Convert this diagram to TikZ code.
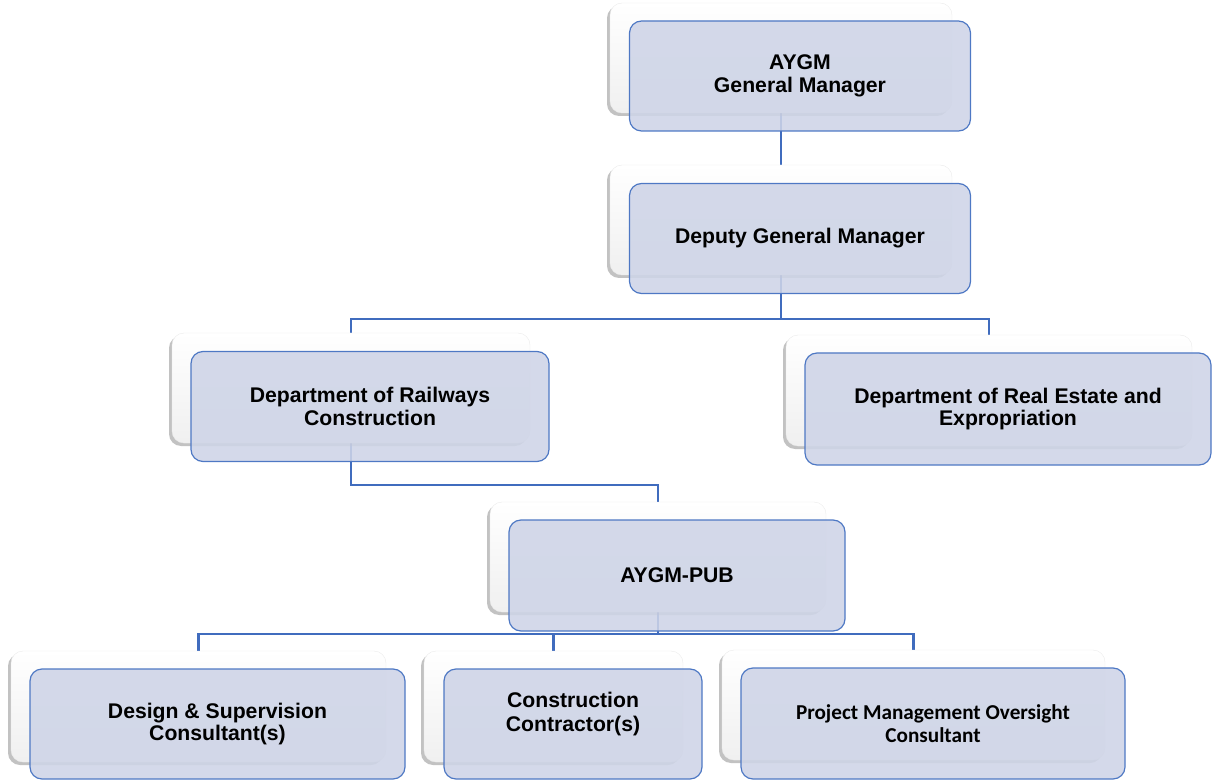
\documentclass[tikz,border=0pt]{standalone}
\usepackage{fontspec}
\setmainfont{Liberation Sans}
\newfontfamily\calib{Carlito}
\usetikzlibrary{shadows,backgrounds}
\definecolor{linkblue}{RGB}{64,108,190}
\definecolor{boxfill}{RGB}{206,212,231}
\definecolor{boxedge}{RGB}{78,120,196}
\tikzset{
  backbox/.style={rectangle, rounded corners=12pt, inner sep=0pt,
    top color=white, bottom color=black!6, draw=black!8, line width=0.4pt,
    drop shadow={shadow xshift=-3pt, shadow yshift=-3pt, opacity=0.4, fill=black!60}},
  frontbox/.style={rectangle, rounded corners=12pt, inner sep=0pt,
    fill=boxfill, fill opacity=0.88, text opacity=1, draw=boxedge, line width=1.2pt,
    align=center, font=\bfseries\fontsize{21.2}{22.5}\selectfont},
  boxtext/.style={align=center, font=\bfseries\fontsize{21.2}{23.5}\selectfont},
  conn/.style={draw=linkblue, line width=2.8pt}
}
\begin{document}
\begin{tikzpicture}[x=1pt,y=-1pt]
\useasboundingbox (0,0) rectangle (1215,783);
% junction levels
\coordinate (j1) at (0,319);
\coordinate (j2) at (0,485);
\coordinate (j3) at (0,634);
% back boxes
\node[backbox, minimum width=342pt, minimum height=110pt] (aB) at (781,58) {};
\node[backbox, minimum width=342pt, minimum height=110pt] (dB) at (781,220) {};
\node[backbox, minimum width=358pt, minimum height=110pt] (rB) at (351,388) {};
\node[backbox, minimum width=406pt, minimum height=111pt] (eB) at (989,390.5) {};
\node[backbox, minimum width=336pt, minimum height=110pt] (pB) at (658,557) {};
\node[backbox, minimum width=375pt, minimum height=111pt] (sB) at (198.5,706.5) {};
\node[backbox, minimum width=259pt, minimum height=111pt] (cB) at (553.5,706.5) {};
\node[backbox, minimum width=383pt, minimum height=110pt] (mB) at (913.5,705) {};
% connectors behind everything
\begin{pgfonlayer}{background}
\draw[conn] (aB.south) -- (dB.north);
\draw[conn] (dB.south) -- (dB.south |- j1) -| (rB.north);
\draw[conn] (dB.south |- j1) -| (eB.north);
\draw[conn] (rB.south) -- (rB.south |- j2) -| (pB.north);
\draw[conn] (pB.south) -- (pB.south |- j3) -| (sB.north);
\draw[conn] (pB.south |- j3) -| (cB.north);
\draw[conn] (pB.south |- j3) -| (mB.north);
\end{pgfonlayer}
% front boxes
\node[frontbox, minimum width=341pt, minimum height=110pt] (a) at (800,76) {AYGM\\General Manager};
\node[frontbox, minimum width=341pt, minimum height=110pt] (d) at (800,238.5) {Deputy General Manager};
\node[frontbox, minimum width=358pt, minimum height=110pt] (r) at (370,406.5) {Department of Railways\\Construction};
\node[frontbox, minimum width=406pt, minimum height=112pt] (e) at (1008,409) {Department of Real Estate and\\Expropriation};
\node[frontbox, minimum width=336pt, minimum height=111pt] (p) at (677,575.5) {AYGM-PUB};
\node[frontbox, minimum width=375pt, minimum height=110pt] (s) at (217.5,724) {Design \& Supervision\\Consultant(s)};
\node[frontbox, minimum width=258pt, minimum height=110pt] (c) at (573,724) {};
\node[boxtext] (ct) at ([yshift=10pt]c.center) {Construction\\Contractor(s)};
\node[frontbox, minimum width=384pt, minimum height=111pt, font=\calib\bfseries\fontsize{21.2}{22.5}\selectfont] (m) at (933,723.5) {Project Management Oversight\\Consultant};
\end{tikzpicture}
\end{document}
